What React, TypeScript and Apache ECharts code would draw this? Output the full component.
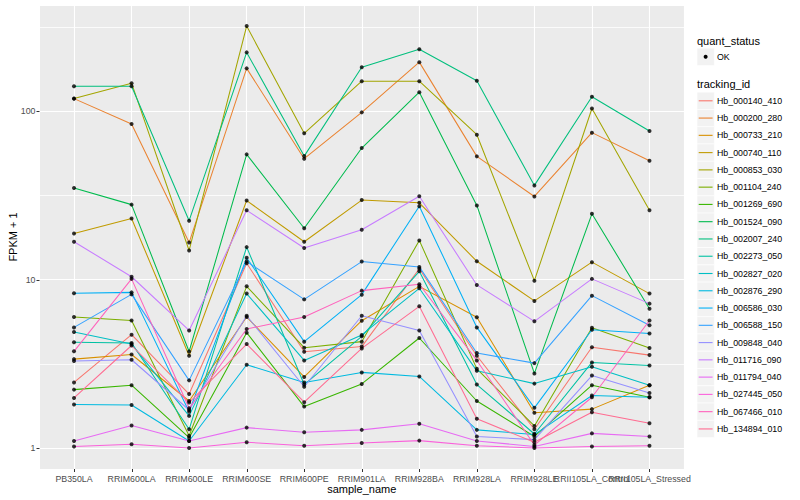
import React, { useEffect, useRef } from "react";
import * as echarts from "echarts";

const sampleNames = [
  "PB350LA", "RRIM600LA", "RRIM600LE", "RRIM600SE", "RRIM600PE", "RRIM901LA",
  "RRIM928BA", "RRIM928LA", "RRIM928LE", "RRII105LA_Control", "RRII105LA_Stressed",
];

const trackingIds = [
  "Hb_000140_410", "Hb_000200_280", "Hb_000733_210", "Hb_000740_110", "Hb_000853_030",
  "Hb_001104_240", "Hb_001269_690", "Hb_001524_090", "Hb_002007_240", "Hb_002273_050",
  "Hb_002827_020", "Hb_002876_290", "Hb_006586_030", "Hb_006588_150", "Hb_009848_040",
  "Hb_011716_090", "Hb_011794_040", "Hb_027445_050", "Hb_067466_010", "Hb_134894_010",
];

const hueColors = [
  "#F8766D", "#EA8331", "#D89000", "#C09B00", "#A3A500", "#7CAE00", "#39B600", "#00BB4E",
  "#00BF7D", "#00C1A3", "#00BFC4", "#00BAE0", "#00B0F6", "#35A2FF", "#9590FF", "#C77CFF",
  "#E76BF3", "#FA62DB", "#FF62BC", "#FF6C91",
];

// FPKM + 1 per sample (order of sampleNames)
const Hb_000140_410 = [2.45, 4.71, 2.09, 12.5, 3.73, 4.0, 11.6, 3.53, 1.29, 3.96, 3.56];
const Hb_000200_280 = [119, 84, 16.6, 180, 52.3, 98.6, 196, 54, 31.2, 74.7, 50.9];
const Hb_000733_210 = [3.37, 3.59, 1.9, 6.0, 2.64, 5.7, 9.12, 5.97, 1.62, 1.7, 2.36];
const Hb_000740_110 = [18.8, 23.1, 3.53, 29.5, 16.8, 29.7, 28.6, 12.85, 7.47, 12.7, 8.26];
const Hb_000853_030 = [119, 147, 14.9, 321, 74, 151, 151, 72.6, 9.86, 104, 25.8];
const Hb_001104_240 = [6.0, 5.72, 1.18, 9.12, 3.94, 4.28, 17.1, 2.95, 1.35, 5.18, 3.92];
const Hb_001269_690 = [2.22, 2.36, 1.15, 4.84, 1.76, 2.4, 4.5, 1.9, 1.17, 2.36, 2.0];
const Hb_001524_090 = [35, 27.9, 3.74, 55.5, 20.2, 60.5, 130, 27.6, 2.77, 24.6, 6.72];
const Hb_002007_240 = [141, 141, 22.4, 224, 54.2, 183, 234, 152, 36.3, 122, 76.4];
const Hb_002273_050 = [4.24, 4.2, 1.29, 15.6, 2.38, 4.6, 11.2, 2.38, 1.21, 3.22, 3.09];
const Hb_002827_020 = [4.88, 4.14, 1.55, 8.26, 3.31, 4.69, 8.88, 2.87, 2.41, 3.04, 2.36];
const Hb_002876_290 = [1.81, 1.8, 1.1, 3.12, 2.45, 2.81, 2.66, 1.28, 1.2, 2.05, 2.0];
const Hb_006586_030 = [8.3, 8.4, 1.64, 13.5, 4.28, 8.14, 27.3, 5.2, 1.73, 5.04, 4.79];
const Hb_006588_150 = [5.2, 8.17, 2.52, 12.8, 7.63, 12.8, 11.9, 3.66, 3.19, 8.03, 5.35];
const Hb_009848_040 = [3.28, 3.34, 1.68, 6.1, 2.31, 6.1, 4.99, 1.17, 1.12, 2.69, 2.12];
const Hb_011716_090 = [16.8, 10.4, 4.99, 25.8, 15.4, 19.8, 31.3, 9.3, 5.65, 10.1, 7.2];
const Hb_011794_040 = [1.1, 1.36, 1.1, 1.32, 1.24, 1.28, 1.39, 1.1, 1.02, 1.22, 1.17];
const Hb_027445_050 = [1.02, 1.05, 1.0, 1.08, 1.03, 1.07, 1.105, 1.03, 1.0, 1.02, 1.03];
const Hb_067466_010 = [3.75, 10.1, 1.72, 5.09, 6.0, 8.6, 9.38, 3.31, 1.04, 2.0, 5.72];
const Hb_134894_010 = [1.98, 4.06, 1.86, 4.14, 1.87, 3.9, 6.94, 1.49, 1.08, 1.63, 1.4];

const seriesValues = [
  Hb_000140_410, Hb_000200_280, Hb_000733_210, Hb_000740_110, Hb_000853_030,
  Hb_001104_240, Hb_001269_690, Hb_001524_090, Hb_002007_240, Hb_002273_050,
  Hb_002827_020, Hb_002876_290, Hb_006586_030, Hb_006588_150, Hb_009848_040,
  Hb_011716_090, Hb_011794_040, Hb_027445_050, Hb_067466_010, Hb_134894_010,
];

const quantStatus = ["OK"];
const xTitle = "sample_name";
const yTitle = "FPKM + 1";

const FONT = "'Liberation Sans', Arial, Helvetica, sans-serif";

export default function App() {
  const ref = useRef<HTMLDivElement>(null);

  useEffect(() => {
    if (!ref.current) return;
    const chart = echarts.init(ref.current, null, { renderer: "svg" });

    const all = seriesValues.flat();
    const lo = Math.log10(Math.min(...all));
    const hi = Math.log10(Math.max(...all));
    const pad = (hi - lo) * 0.05;
    const yMin = Math.pow(10, lo - pad);
    const yMax = Math.pow(10, hi + pad);
    const xMin = 1 - 0.6;
    const xMax = sampleNames.length + 0.6;

    const majorBreaks: number[] = [];
    const minorBreaks: number[] = [];
    for (let k = Math.floor(lo - pad) - 1; k <= Math.ceil(hi + pad); k++) {
      const v = Math.pow(10, k);
      if (v > yMin && v < yMax) majorBreaks.push(v);
      const m = Math.pow(10, k + 0.5);
      if (m > yMin && m < yMax) minorBreaks.push(m);
    }

    const lineSeries = trackingIds.map((id, i) => ({
      name: id,
      type: "line",
      data: seriesValues[i].map((v, j) => [j + 1, v]),
      showSymbol: false,
      symbol: "none",
      lineStyle: { color: hueColors[i], width: 1.05 },
      itemStyle: { color: hueColors[i] },
      z: 3,
      silent: true,
    }));

    const pointSeries = {
      name: quantStatus[0],
      type: "scatter",
      data: seriesValues.flatMap((vals) => vals.map((v, j) => [j + 1, v])),
      symbol: "circle",
      symbolSize: 4,
      itemStyle: { color: "#000000" },
      z: 4,
      silent: true,
    };

    chart.setOption({
      animation: false,
      backgroundColor: "#FFFFFF",
      textStyle: { fontFamily: FONT },
      grid: {
        left: 39.5,
        right: 116,
        top: 5,
        bottom: 31,
        containLabel: false,
        outerBoundsMode: "none",
        show: true,
        backgroundColor: "#EBEBEB",
        borderWidth: 0,
      },
      xAxis: {
        type: "value",
        min: xMin,
        max: xMax,
        minInterval: 1,
        maxInterval: 1,
        axisLine: { show: false },
        axisTick: { show: false },
        axisLabel: {
          margin: 5,
          fontSize: 8.8,
          color: "#4D4D4D",
          fontFamily: FONT,
          formatter: (v: number) => {
            const r = Math.round(v);
            return Math.abs(v - r) < 1e-6 && r >= 1 && r <= sampleNames.length ? sampleNames[r - 1] : "";
          },
        },
        splitLine: { show: true, lineStyle: { color: "#FFFFFF", width: 1.1 } },
      },
      yAxis: {
        type: "log",
        logBase: 10,
        min: yMin,
        max: yMax,
        axisLine: { show: false },
        axisTick: { show: false },
        axisLabel: {
          margin: 4,
          fontSize: 8.8,
          color: "#4D4D4D",
          fontFamily: FONT,
          formatter: (v: number) => {
            const l = Math.log10(v);
            return Math.abs(l - Math.round(l)) < 1e-6 ? String(Math.round(v)) : "";
          },
        },
        splitLine: { show: true, lineStyle: { color: "#FFFFFF", width: 1.1 } },
      },
      series: [...lineSeries, pointSeries],
    });

    const graphics: any[] = [];
    const toPx = (x: number, y: number) =>
      chart.convertToPixel({ xAxisIndex: 0, yAxisIndex: 0 }, [x, y]) as number[];

    // minor (half-decade) gridlines, axis ticks and axis titles, placed through the axes' scales
    const bl = toPx(xMin, yMin);
    const tr = toPx(xMax, yMax);
    minorBreaks.forEach((v) => {
      const p = toPx(xMin, v);
      if (!p || !bl || !tr) return;
      const y = Math.round(p[1]) + 0.5;
      graphics.push({
        type: "line", silent: true, z: 1,
        shape: { x1: bl[0], y1: y, x2: tr[0], y2: y },
        style: { stroke: "#FFFFFF", lineWidth: 0.8 },
      });
    });
    const tickColor = "#333333";
    majorBreaks.forEach((v) => {
      const p = toPx(xMin, v);
      if (!p) return;
      const y = Math.round(p[1]) + 0.5;
      graphics.push({ type: "line", silent: true, z: 1, shape: { x1: p[0] - 3, y1: y, x2: p[0], y2: y }, style: { stroke: tickColor, lineWidth: 1 } });
    });
    sampleNames.forEach((_, i) => {
      const p = toPx(i + 1, yMin);
      if (!p) return;
      const x = Math.round(p[0]) + 0.5;
      graphics.push({ type: "line", silent: true, z: 1, shape: { x1: x, y1: p[1], x2: x, y2: p[1] + 3 }, style: { stroke: tickColor, lineWidth: 1 } });
    });
    if (bl && tr) {
      graphics.push({
        type: "text", silent: true,
        style: { x: (bl[0] + tr[0]) / 2, y: bl[1] + 19.5, text: xTitle, fontSize: 11, fontFamily: FONT, fill: "#000", align: "center", verticalAlign: "middle" },
      });
      graphics.push({
        type: "text", silent: true,
        x: 13, y: (bl[1] + tr[1]) / 2, rotation: Math.PI / 2,
        style: { x: 0, y: 0, text: yTitle, fontSize: 11, fontFamily: FONT, fill: "#000", align: "center", verticalAlign: "middle" },
      });
    }

    // ggplot-style legends
    const legendX = 697;
    const keySize = 17.27;
    graphics.push({
      type: "text",
      style: { x: legendX, y: 41, text: "quant_status", fontSize: 11, fontFamily: FONT, fill: "#000", align: "left", verticalAlign: "middle" },
    });
    quantStatus.forEach((q, i) => {
      const cy = 56.8 + i * keySize;
      graphics.push({ type: "rect", shape: { x: legendX, y: cy - keySize / 2, width: keySize, height: keySize }, style: { fill: "#F2F2F2", stroke: "#FFFFFF", lineWidth: 0.6 } });
      graphics.push({ type: "circle", shape: { cx: legendX + keySize / 2, cy, r: 2 }, style: { fill: "#000" } });
      graphics.push({ type: "text", style: { x: 717, y: cy, text: q, fontSize: 8.8, fontFamily: FONT, fill: "#000", align: "left", verticalAlign: "middle" } });
    });
    graphics.push({
      type: "text",
      style: { x: legendX, y: 84, text: "tracking_id", fontSize: 11, fontFamily: FONT, fill: "#000", align: "left", verticalAlign: "middle" },
    });
    trackingIds.forEach((id, i) => {
      const cy = 100.8 + i * keySize;
      graphics.push({ type: "rect", shape: { x: legendX, y: cy - keySize / 2, width: keySize, height: keySize }, style: { fill: "#F2F2F2", stroke: "#FFFFFF", lineWidth: 0.6 } });
      graphics.push({ type: "line", shape: { x1: legendX + 1.7, y1: cy, x2: legendX + keySize - 1.7, y2: cy }, style: { stroke: hueColors[i], lineWidth: 1.1 } });
      graphics.push({ type: "text", style: { x: 717, y: cy, text: id, fontSize: 8.8, fontFamily: FONT, fill: "#000", align: "left", verticalAlign: "middle" } });
    });

    chart.setOption({ graphic: graphics });

    return () => chart.dispose();
  }, []);

  return <div ref={ref} style={{ position: "fixed", left: 0, top: 0, width: 800, height: 500 }} />;
}
